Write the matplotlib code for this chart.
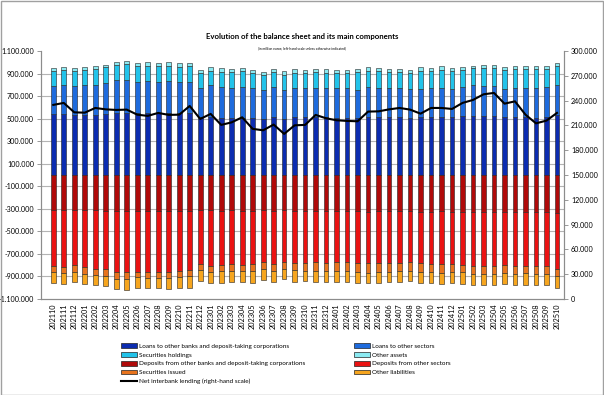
import matplotlib as mpl
mpl.use('Agg')
import matplotlib.pyplot as plt
import numpy as np
from matplotlib.ticker import FuncFormatter, FixedLocator
from matplotlib.patches import Patch, Rectangle
from matplotlib.lines import Line2D

months = ["202110", "202111", "202112", "202201", "202202", "202203", "202204", "202205", "202206",
          "202207", "202208", "202209", "202210", "202211", "202212", "202301", "202302", "202303",
          "202304", "202305", "202306", "202307", "202308", "202309", "202310", "202311", "202312",
          "202401", "202402", "202403", "202404", "202405", "202406", "202407", "202408", "202409",
          "202410", "202411", "202412", "202501", "202502", "202503", "202504", "202505", "202506",
          "202507", "202508", "202509", "202510"]

# assets, thousands of million euros
loans_banks = [538, 541, 529, 529, 529, 538, 553, 553, 553, 553, 553, 553, 553, 547, 512, 512, 506,
               506, 506, 506, 500, 517, 500, 512, 512, 512, 512, 510, 508, 506, 517, 515, 512, 512,
               510, 512, 515, 515, 512, 520, 523, 523, 523, 515, 517, 512, 510, 512, 530]
loans_other = [250, 253, 259, 270, 273, 279, 288, 293, 276, 279, 276, 282, 276, 282, 258, 282, 279,
               270, 279, 267, 258, 268, 258, 260, 258, 264, 264, 266, 262, 252, 265, 261, 258, 258,
               251, 255, 255, 261, 255, 262, 271, 265, 265, 252, 259, 258, 266, 270, 269]
sec_holdings = [138, 135, 132, 133, 138, 138, 138, 136, 135, 138, 135, 135, 129, 135, 135, 132, 129,
                135, 135, 132, 133, 129, 127, 132, 135, 138, 129, 129, 135, 153, 138, 147, 141, 141,
                144, 159, 150, 156, 153, 153, 152, 164, 164, 162, 167, 170, 164, 161, 165]
other_assets = [26, 32, 26, 26, 27, 24, 26, 29, 32, 32, 32, 35, 38, 32, 30, 32, 32, 29, 32, 27, 26,
                29, 35, 32, 27, 29, 32, 27, 27, 32, 38, 26, 32, 29, 24, 29, 32, 32, 26, 23, 24, 21,
                21, 26, 27, 27, 24, 27, 29]

# liabilities (drawn below zero)
dep_banks = [312, 314, 310, 308, 312, 318, 322, 320, 316, 318, 315, 318, 320, 322, 310, 312, 315,
             312, 316, 318, 314, 316, 312, 318, 320, 318, 322, 320, 318, 322, 325, 320, 318, 322,
             320, 324, 326, 322, 325, 328, 326, 330, 328, 325, 328, 330, 332, 330, 335]
dep_other = [492, 499, 491, 511, 519, 518, 538, 543, 544, 542, 542, 539, 528, 523, 477, 492, 480,
             477, 479, 471, 458, 473, 457, 466, 458, 457, 456, 455, 457, 456, 459, 461, 460, 462,
             452, 460, 463, 470, 467, 470, 478, 480, 479, 470, 479, 474, 478, 474, 499]
sec_issued = [59, 59, 62, 56, 55, 59, 59, 59, 45, 50, 53, 53, 53, 50, 58, 59, 59, 62, 56, 59, 59,
              65, 62, 63, 73, 79, 73, 76, 76, 82, 82, 79, 79, 70, 82, 76, 74, 77, 68, 65, 71, 68,
              68, 77, 71, 68, 68, 74, 61]
other_liab = [97, 94, 88, 91, 86, 88, 91, 97, 100, 91, 94, 100, 100, 106, 91, 94, 100, 97, 94, 106,
              99, 94, 94, 100, 91, 97, 100, 94, 94, 100, 94, 94, 91, 94, 88, 100, 97, 100, 97, 100,
              97, 102, 105, 97, 99, 100, 94, 99, 103]

# right-hand scale
net_interbank = [234.8, 237.2, 225.8, 225.4, 231.1, 229.4, 228.7, 229.1, 223.0, 221.5, 225.1, 222.7,
                 223.0, 233.5, 217.8, 223.9, 210.6, 213.7, 219.8, 205.8, 204.1, 211.0, 199.7, 210.1,
                 210.6, 222.7, 218.6, 216.2, 215.4, 215.0, 226.7, 227.0, 229.4, 231.1, 229.1, 224.2,
                 231.1, 231.1, 229.9, 237.2, 240.8, 247.6, 249.3, 236.3, 239.1, 223.0, 212.5, 215.8,
                 225.1]

plt.rcParams['font.family'] = ['Lato', 'DejaVu Sans']

fig = plt.figure(figsize=(6.04, 3.95), dpi=100)
ax = fig.add_axes([41 / 604, 1 - 299 / 395, (564 - 41) / 604, (299 - 51) / 395])
ax2 = ax.twinx()

x = np.arange(len(months))
w = 0.45
ec = '#222222'
lw = 0.4

pos = [(loans_banks, '#0C2CB0', "Loans to other banks and deposit-taking corporations"),
       (loans_other, '#1E6BDD', "Loans to other sectors"),
       (sec_holdings, '#22C3EA', "Securities holdings"),
       (other_assets, '#8BEAF2', "Other assets")]
neg = [(dep_banks, '#B00A0A', "Deposits from other banks and deposit-taking corporations"),
       (dep_other, '#EA1212', "Deposits from other sectors"),
       (sec_issued, '#E8731C', "Securities issued"),
       (other_liab, '#F6A51E', "Other liabilities")]

bottom = np.zeros(len(months))
for vals, col, lab in pos:
    v = np.array(vals) * 1000.0
    ax.bar(x, v, w, bottom=bottom, color=col, edgecolor=ec, linewidth=lw, zorder=3)
    bottom += v
bottom = np.zeros(len(months))
for vals, col, lab in neg:
    v = -np.array(vals) * 1000.0
    ax.bar(x, v, w, bottom=bottom, color=col, edgecolor=ec, linewidth=lw, zorder=3)
    bottom += v

ax2.plot(x, np.array(net_interbank) * 1000.0, color='black', lw=1.5, zorder=5)

ax.set_ylim(-1100000, 1100000)
ax2.set_ylim(0, 300000)
ax.set_xlim(-1.17, 48.67)
ax.yaxis.set_major_locator(FixedLocator(np.arange(-1100000, 1100001, 200000)))
ax2.yaxis.set_major_locator(FixedLocator(np.arange(0, 300001, 30000)))
dotfmt = FuncFormatter(lambda v, p: f"{v:,.0f}".replace(",", "."))
ax.yaxis.set_major_formatter(dotfmt)
ax2.yaxis.set_major_formatter(dotfmt)

for yv in np.arange(-900000, 900001, 200000):
    ax.axhline(yv, color='#b4b4b4', lw=0.8, zorder=1)

ax.set_xticks(x)
ax.set_xticklabels(months, rotation=90, fontsize=5.3)
ax.tick_params(axis='x', length=0, pad=3)
ax.tick_params(axis='y', labelsize=5.1, length=3, width=0.6, color='#888888', pad=2)
ax2.tick_params(axis='y', labelsize=5.1, length=3, width=0.6, color='#888888', pad=2)

for a in (ax, ax2):
    a.spines['top'].set_visible(False)
    for s in ('left', 'right', 'bottom'):
        a.spines[s].set_color('#8c8c8c')
        a.spines[s].set_linewidth(0.8)

fig.text(0.5, 1 - 37 / 395, "Evolution of the balance sheet and its main components",
         ha='center', va='center', fontsize=5.6, fontweight='bold')
fig.text(0.5, 1 - 48 / 395, "(in million euros; left-hand scale unless otherwise indicated)",
         ha='center', va='center', fontsize=2.4)

handles = [Patch(facecolor=c, edgecolor=ec, linewidth=0.5, label=l) for _, c, l in pos + neg]
line_h = Line2D([0], [0], color='black', lw=1.5, label="Net interbank lending (right-hand scale)")
order = [handles[0], handles[2], handles[4], handles[6], line_h,
         handles[1], handles[3], handles[5], handles[7]]
fig.legend(handles=order, ncol=2, loc='upper left', bbox_to_anchor=(121 / 604, 1 - 343 / 395),
           frameon=False, fontsize=4.6, handlelength=2.5, handleheight=0.8, handletextpad=0.3,
           labelspacing=0.5, columnspacing=7.6, borderaxespad=0, borderpad=0)

fig.patches.append(Rectangle((0.001, 0.001), 0.997, 0.997, transform=fig.transFigure,
                             fill=False, edgecolor='#a0a0a0', lw=1.0))

plt.savefig("out.png", dpi=100)
